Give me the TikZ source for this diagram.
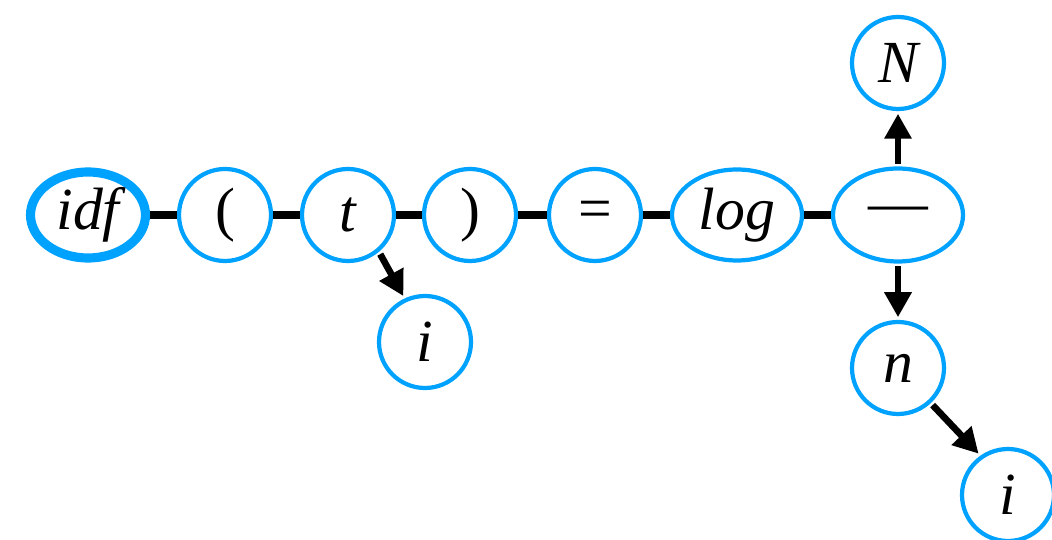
\documentclass[tikz,border=0pt]{standalone}
\usepackage{fontspec}
\setmainfont{Liberation Serif}
\usetikzlibrary{shapes.geometric,arrows.meta,positioning}
\definecolor{tokBlue}{HTML}{00A2FF}

\begin{document}
\begin{tikzpicture}[
    tok/.style={draw=tokBlue, line width=2.4pt, fill=white, inner sep=0pt,
        font=\fontsize{34}{40}\selectfont},
    circ/.style={tok, circle, minimum size=1.84cm},
    oval/.style={tok, ellipse, minimum width=2.6cm, minimum height=1.82cm},
    link/.style={line width=4.8pt},
    arr/.style={-{Triangle[length=0.5cm, width=0.52cm]}, line width=3.8pt,
        shorten <=1.5pt, shorten >=1.5pt},
]
\useasboundingbox (0, 0) rectangle (21.04, 10.8);

% ===== MAIN CHAIN =====
\node[oval, line width=5.2pt, minimum width=2.3cm, minimum height=1.72cm] (idf) at (1.76, 6.5) {\itshape idf};
\node[circ] (lpar) at (4.5, 6.5) {(};
\node[circ] (t) at (6.96, 6.5) {\itshape t};
\node[circ] (rpar) at (9.4, 6.5) {)};
\node[circ] (eq) at (11.9, 6.5) {=};
\node[oval] (log) at (14.74, 6.5) {\itshape log};
\node[oval, minimum height=1.86cm] (frac) at (17.96, 6.5) {---};

\draw[link] (idf) -- (lpar);
\draw[link] (lpar) -- (t);
\draw[link] (t) -- (rpar);
\draw[link] (rpar) -- (eq);
\draw[link] (eq) -- (log);
\draw[link] (log) -- (frac);

% ===== CHILDREN =====
\node[circ] (ti) at (8.5, 3.96) {\itshape i};
\node[circ] (num) at (17.96, 9.54) {\itshape N};
\node[circ] (den) at (17.96, 3.44) {\itshape n};
\node[circ] (ni) at (20.16, 0.9) {\itshape i};

\draw[arr] (t.-50) -- (ti.115);
\draw[arr] (frac.north) -- (num.south);
\draw[arr] (frac.south) -- (den.north);
\draw[arr] (den.-47) -- (ni.125);

\end{tikzpicture}
\end{document}
